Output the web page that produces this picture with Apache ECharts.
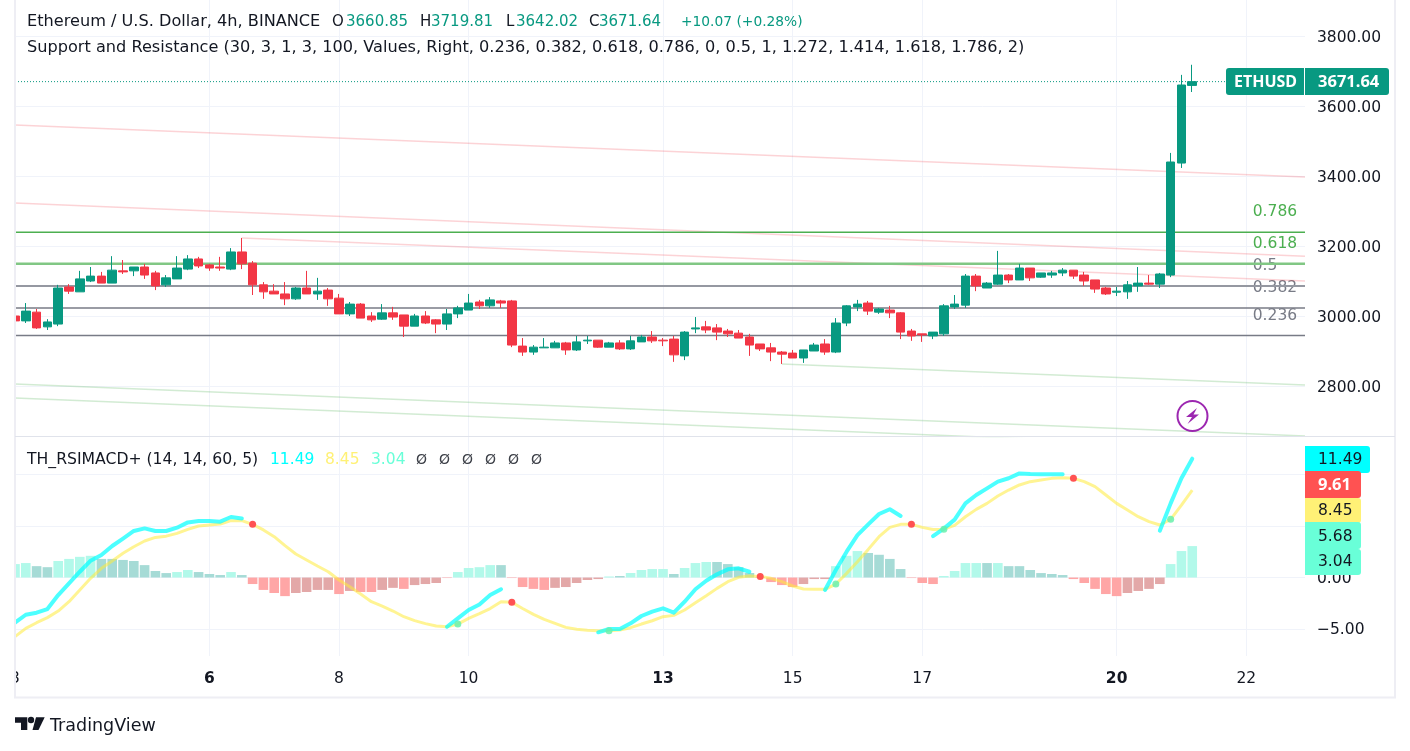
<!DOCTYPE html>
<html>
<head>
    <meta charset="utf-8">
    <style>
        html, body{
            width: 100%;
            height: 100%;
            margin: 0;
            padding: 0;
            background: #fff;
        }
        #chart{
            width: 1410px;
            height: 751px;
        }
    </style>
</head>
<body>
    <div id="chart"></div>
    <script src="https://cdn.jsdelivr.net/npm/echarts@6/dist/echarts.min.js"></script>
    <script>
        // open, close, low, high for each 4h bar
        var candles = [
            [3002,2988,2976,3024],[2988,3016,2982,3039],[3013,2968,2965,3022],[2971,2985,2962,2993],[2979,3082,2973,3091],
            [3085,3073,3065,3093],[3071,3108,3071,3131],[3102,3116,3099,3142],[3116,3096,3096,3128],[3096,3133,3096,3173],
            [3131,3128,3122,3162],[3131,3142,3116,3142],[3142,3119,3108,3151],[3125,3088,3076,3131],[3091,3111,3085,3119],
            [3108,3139,3108,3173],[3136,3165,3133,3176],[3165,3145,3139,3171],[3148,3139,3131,3151],[3142,3139,3131,3171],
            [3136,3185,3133,3196],[3185,3151,3136,3225],[3153,3091,3062,3159],[3091,3071,3051,3099],[3073,3065,3065,3093],
            [3065,3051,3033,3099],[3051,3082,3048,3085],[3082,3065,3065,3131],[3065,3073,3048,3111],[3076,3051,3031,3082],
            [3053,3008,3008,3065],[3008,3036,3002,3042],[3036,2996,2996,3039],[3002,2991,2985,3013],[2993,3011,2991,3036],
            [3011,2999,2991,3028],[3005,2973,2942,3005],[2973,3002,2973,3008],[3002,2982,2979,3016],[2991,2979,2953,2993],
            [2979,3008,2962,3022],[3008,3025,2996,3031],[3019,3039,3019,3065],[3042,3031,3022,3048],[3031,3048,3025,3056],
            [3045,3039,3025,3048],[3045,2919,2913,3048],[2916,2899,2888,2939],[2899,2913,2891,2919],[2911,2913,2911,2939],
            [2911,2925,2911,2931],[2925,2905,2891,2928],[2905,2928,2902,2945],[2931,2933,2922,2945],[2933,2913,2911,2933],
            [2913,2925,2913,2928],[2925,2908,2905,2933],[2908,2931,2905,2945],[2928,2942,2928,2948],[2942,2931,2925,2959],
            [2933,2931,2916,2939],[2936,2891,2871,2945],[2888,2956,2876,2959],[2965,2968,2953,2999],[2971,2962,2953,2988],
            [2968,2956,2933,2979],[2959,2951,2942,2965],[2953,2939,2939,2962],[2942,2919,2888,2951],[2922,2908,2902,2922],
            [2911,2899,2873,2925],[2899,2893,2865,2902],[2896,2882,2882,2905],[2882,2905,2868,2905],[2902,2919,2902,2925],
            [2922,2899,2891,2936],[2899,2982,2896,2996],[2982,3031,2973,3033],[3028,3036,3016,3048],[3039,3016,3005,3045],
            [3013,3022,3008,3025],[3019,3011,2996,3031],[3011,2956,2936,3013],[2959,2945,2931,2965],[2951,2948,2928,2951],
            [2945,2956,2936,2956],[2951,3031,2945,3036],[3028,3036,3022,3062],[3033,3116,3025,3122],[3116,3088,3073,3122],
            [3082,3096,3082,3099],[3093,3119,3091,3188],[3119,3105,3096,3122],[3105,3139,3105,3151],[3139,3111,3102,3139],
            [3113,3125,3111,3125],[3119,3125,3111,3131],[3125,3133,3116,3139],[3133,3116,3108,3133],[3119,3102,3088,3128],
            [3105,3079,3068,3105],[3082,3065,3062,3085],[3070,3073,3059,3085],[3071,3091,3051,3102],[3088,3096,3071,3142],
            [3096,3093,3091,3119],[3093,3122,3082,3125],[3119,3442,3113,3468],[3439,3662,3425,3691],[3660.85,3671.64,3642.02,3719.81]
        ];
        var fibLevels = ["0.786", "0.618", "0.5", "0.382", "0.236"];
        var fibPrices = [3241, 3151, 3088, 3025, 2946];
        // x1, price1, x2, price2
        var resistanceLines = [[0,3548,119.44,3399],[0,3325,119.44,3173],[21,3225,119.44,3102]];
        var supportLines = [[0,2808,119.44,2659],[0,2768,119.44,2619],[71,2865,119.44,2805]];
        var lastPrice = 3671.64;

        var macdHist = [
            1.3,1.4,1.1,1.0,1.6,1.8,2.0,2.1,1.8,1.8,1.7,1.6,1.2,0.63,0.43,0.53,0.73,0.53,0.34,0.24,
            0.53,0.24,-0.63,-1.2,-1.5,-1.8,-1.5,-1.4,-1.2,-1.2,-1.6,-1.3,-1.4,-1.4,-1.2,-1.0,-1.1,-0.73,-0.63,-0.53,
            -0.05,0.53,0.92,1.0,1.2,1.2,-0.05,-0.92,-1.1,-1.2,-1.0,-0.92,-0.53,-0.24,-0.15,0.1,0.15,0.44,0.73,0.82,
            0.82,0.34,0.92,1.4,1.5,1.5,1.3,1.0,0.44,-0.05,-0.44,-0.73,-0.92,-0.63,-0.15,-0.15,1.1,2.1,2.56,2.37,
            2.2,1.8,0.82,-0.05,-0.53,-0.63,0.15,0.63,1.4,1.4,1.4,1.4,1.1,1.1,0.73,0.43,0.34,0.24,-0.15,-0.53,
            -1.1,-1.6,-1.8,-1.5,-1.3,-1.1,-0.63,1.3,2.56,3.04
        ];
        // L = strong bar, D = weakening bar
        var macdShade = (
            "LLDDLLLLDDDDDDDLLDDD" + "LDLLLLDDDDLDLLDDLDDD" +
            "LLLLLDLLLLDDDDDLDLLL" + "LDLLLDDDDD" + "LLLDDDLLLD" +
            "DDDLLLLLLLDLDDDDDDLL" + "LLLDDDDLLL"
        ).split("");
        var signalLine = [
            -5.72,-4.92,-4.37,-3.88,-3.24,-2.34,-1.2,-0.08,0.89,1.6,2.34,2.98,3.53,3.88,4.0,4.27,4.66,4.98,5.08,5.17,
            5.5,5.5,5.14,4.6,3.95,3.08,2.27,1.69,1.11,0.56,-0.24,-0.89,-1.6,-2.34,-2.76,-3.24,-3.79,-4.17,-4.46,-4.69,
            -4.76,-4.5,-3.95,-3.5,-3.0,-2.34,-2.4,-3.0,-3.56,-4.05,-4.43,-4.82,-5.0,-5.1,-5.14,-5.14,-5.08,-4.85,-4.5,-4.18,
            -3.79,-3.66,-3.14,-2.43,-1.76,-1.05,-0.4,0.02,0.15,0.11,-0.08,-0.4,-0.82,-1.11,-1.14,-1.14,-0.63,0.4,1.53,2.72,
            3.95,4.85,5.14,5.14,4.85,4.64,4.68,5.04,5.88,6.59,7.17,7.88,8.46,8.95,9.27,9.43,9.59,9.65,9.59,9.27,
            8.79,7.98,7.17,6.53,5.88,5.4,5.08,5.63,7.0,8.45
        ];
        var rsiSegments = [
            {from: 0, values: [-4.37,-3.6,-3.4,-3.05,-1.7,-0.56,0.56,1.63,2.18,3.05,3.76,4.5,4.75,4.5,4.5,4.82,5.33,5.46,5.46,5.4,5.85,5.7]},
            {from: 40, values: [-4.76,-3.95,-3.14,-2.6,-1.7,-1.14]},
            {from: 54, values: [-5.3,-4.98,-4.98,-4.43,-3.72,-3.3,-2.98,-3.4,-2.34,-1.14,-0.31,0.31,0.79,0.89,0.56]},
            {from: 75, values: [-1.2,0.73,2.5,4.1,5.14,6.14,6.6,5.95]},
            {from: 85, values: [4.0,4.73,5.6,7.17,7.98,8.62,9.27,9.6,10.07,10,9.98,9.98,9.98]},
            {from: 106, values: [4.53,7.17,9.6,11.49]}
        ];
        var sellDots = [[22,5.14],[46,-2.4],[69,0.11],[83,5.14],[98,9.59]];
        var buyDots = [[41,-4.5],[55,-5.14],[76,-0.63],[86,4.68],[107,5.63]];

        var priceTicks = [2800, 3000, 3200, 3400, 3600, 3800];
        var macdTicks = [-5, 0, 5, 10];
        var dayBars = [0, 18, 30, 42, 60, 72, 84, 102, 114];
        var dayLabels = ["3", "6", "8", "10", "13", "15", "17", "20", "22"];
        var boldDays = ["6", "13", "20"];

        var FONT = '"DejaVu Sans", sans-serif';
        var BOLDFONT = '"Noto Sans", sans-serif';
        var FS = 15.5;
        var TEXT = "#131722", UP = "#089981", DOWN = "#f23645", GREY = "#787b86";
        var GRIDCOL = "#f0f3fa";
        var XMAX = 119.44;

        function bars(arr){
            var out = [];
            for( var i = 0; i < arr.length; i++ ){
                out.push( [i, arr[i]] );
            }
            return out;
        }

        var series = [];

        // trend lines and fib levels sit under the candles
        function trend(list, color){
            for( var i = 0; i < list.length; i++ ){
                var t = list[i];
                series.push({
                    type: "line", xAxisIndex: 0, yAxisIndex: 0, symbol: "none", silent: true,
                    lineStyle: {color: color, width: 1.5},
                    data: [[t[0], t[1]], [t[2], t[3]]]
                });
            }
        }
        trend(resistanceLines, "rgba(242,54,69,0.22)");
        trend(supportLines, "rgba(76,175,80,0.25)");

        var fibColors = ["#4caf50", "#81c784", "#9598a1", "#787b86", "#787b86"];
        var fibWidths = [1.5, 2.5, 2, 1.5, 1.5];
        var fibText = ["#4caf50", "#4caf50", GREY, GREY, GREY];
        for( var f = 0; f < fibPrices.length; f++ ){
            series.push({
                type: "line", xAxisIndex: 0, yAxisIndex: 0, symbol: "none", silent: true,
                lineStyle: {color: fibColors[f], width: fibWidths[f]},
                data: [[0, fibPrices[f]], [XMAX, fibPrices[f]]]
            });
            series.push({
                type: "scatter", xAxisIndex: 0, yAxisIndex: 0, symbolSize: 0, silent: true,
                itemStyle: {opacity: 1},
                label: {show: true, position: "right", distance: 0, offset: [0, -20], formatter: fibLevels[f], color: fibText[f], fontFamily: FONT, fontSize: FS},
                data: [[114.6, fibPrices[f]]]
            });
        }
        series.push({
            type: "line", xAxisIndex: 0, yAxisIndex: 0, symbol: "none", silent: true,
            lineStyle: {color: UP, width: 1, type: [1, 2]},
            data: [[0, lastPrice], [XMAX, lastPrice]]
        });

        series.push({
            type: "candlestick", xAxisIndex: 0, yAxisIndex: 0, z: 5, barWidth: 9,
            itemStyle: {color: UP, color0: DOWN, borderColor: UP, borderColor0: DOWN, borderWidth: 1},
            data: candles.map(function(c, i){ return [i, c[0], c[1], c[2], c[3]]; })
        });

        // lower pane
        series.push({
            type: "bar", xAxisIndex: 1, yAxisIndex: 1, barWidth: 9.6,
            data: macdHist.map(function(v, i){
                var strong = macdShade[i] === "L";
                var c = v >= 0 ? (strong ? "#b2f9ea" : "#a6dbd6") : (strong ? "#ffa6a6" : "#e3a8a8");
                return {value: [i, v], itemStyle: {color: c}};
            })
        });
        series.push({
            type: "line", xAxisIndex: 1, yAxisIndex: 1, symbol: "none", z: 3,
            lineStyle: {color: "#ffeb3b", opacity: 0.55, width: 3},
            data: bars(signalLine)
        });
        rsiSegments.forEach(function(seg){
            series.push({
                type: "line", xAxisIndex: 1, yAxisIndex: 1, symbol: "none", z: 4,
                lineStyle: {color: "#00ffff", opacity: 0.7, width: 4, cap: "round", join: "round"},
                data: seg.values.map(function(v, k){ return [seg.from + k, v]; })
            });
        });
        series.push({
            type: "scatter", xAxisIndex: 1, yAxisIndex: 1, symbolSize: 7, z: 6,
            itemStyle: {color: "#ff5252", opacity: 1}, data: sellDots
        });
        series.push({
            type: "scatter", xAxisIndex: 1, yAxisIndex: 1, symbolSize: 7, z: 6,
            itemStyle: {color: "#69f0ae", opacity: 0.85}, data: buyDots
        });

        function txt(x, y, s, fill, size, weight, family){
            return {
                type: "text", z: 120, silent: true,
                style: {x: x, y: y, text: s, fill: fill, font: (weight || "normal") + " " + (size || FS) + 'px ' + (family || FONT),
                    textAlign: "left", textVerticalAlign: "middle"}
            };
        }
        function box(x, y, w, h, color, r){
            return {type: "rect", z: 110, silent: true, shape: {x: x, y: y, width: w, height: h, r: r || 0}, style: {fill: color}};
        }
        function hline(y, x1, x2, color, w){
            return {type: "line", z: 105, silent: true, shape: {x1: x1, y1: y, x2: x2, y2: y}, style: {stroke: color, lineWidth: w}};
        }
        function vline(x, y1, y2, color, w){
            return {type: "line", z: 105, silent: true, shape: {x1: x, y1: y1, x2: x, y2: y2}, style: {stroke: color, lineWidth: w}};
        }
        function poly(points, color){
            return {type: "polygon", z: 120, silent: true, shape: {points: points}, style: {fill: color}};
        }

        var graphics = [
            // frame
            box(0, 0, 14, 700, "#fff"),
            vline(15, 0, 698, "#eeeef4", 2),
            vline(1395, 0, 698, "#eeeef4", 2),
            hline(697.5, 14, 1396, "#eeeef4", 2),
            hline(436.5, 15, 1395, "#e0e3eb", 1),

            // legend
            txt(27, 22, "Ethereum / U.S. Dollar, 4h, BINANCE", TEXT, 16.15),
            txt(332, 22, "O", TEXT, 15), txt(346, 22, "3660.85", UP, 15),
            txt(420, 22, "H", TEXT, 15), txt(431, 22, "3719.81", UP, 15),
            txt(506, 22, "L", TEXT, 15), txt(516, 22, "3642.02", UP, 15),
            txt(589, 22, "C", TEXT, 15), txt(599, 22, "3671.64", UP, 15),
            txt(681, 22, "+10.07 (+0.28%)", UP, 13.8),
            txt(27, 48, "Support and Resistance (30, 3, 1, 3, 100, Values, Right, 0.236, 0.382, 0.618, 0.786, 0, 0.5, 1, 1.272, 1.414, 1.618, 1.786, 2)", TEXT, 16.15),
            txt(27, 460, "TH_RSIMACD+ (14, 14, 60, 5)", TEXT, 15.65),
            txt(270, 460, "11.49", "#00ffff"), txt(325, 460, "8.45", "#fff176"), txt(371, 460, "3.04", "#69ffd8"),
            txt(416, 460, "Ø", "#3d4048", 14), txt(439, 460, "Ø", "#3d4048", 14), txt(462, 460, "Ø", "#3d4048", 14),
            txt(485, 460, "Ø", "#3d4048", 14), txt(508, 460, "Ø", "#3d4048", 14), txt(531, 460, "Ø", "#3d4048", 14),

            // price tag
            box(1226, 68, 78, 27, UP, [3, 0, 0, 3]),
            box(1305, 68, 84, 27, UP, [0, 3, 3, 0]),
            txt(1234, 82, "ETHUSD", "#fff", 16, "bold", BOLDFONT),
            txt(1318, 82, "3671.64", "#fff", 16.5, "bold", BOLDFONT),

            // indicator tags
            box(1305, 446, 65, 27, "#00ffff", [0, 3, 3, 0]), txt(1318, 460, "11.49", TEXT),
            box(1305, 471, 56, 27, "#ff5252", [0, 3, 3, 0]), txt(1318, 485, "9.61", "#fff", 16.5, "bold", BOLDFONT),
            box(1305, 498, 56, 25, "#fff176", [0, 3, 3, 0]), txt(1318, 511, "8.45", TEXT),
            box(1305, 522, 56, 27, "#69ffd8", [0, 3, 3, 0]), txt(1318, 536.5, "5.68", TEXT),
            box(1305, 549, 56, 26, "#69ffd8", [0, 3, 3, 0]), txt(1318, 562, "3.04", TEXT),

            // lightning icon
            {type: "circle", z: 120, silent: true, shape: {cx: 1192.5, cy: 416, r: 15}, style: {fill: "none", stroke: "#9c27b0", lineWidth: 2}},
            poly([[1197, 408], [1186, 417], [1192, 417], [1187.5, 424], [1199, 414.5], [1193.5, 414.5]], "#9c27b0"),

            // logo
            poly([[15, 717.3], [27.3, 717.3], [27.3, 730], [21, 730], [21, 722.7], [15, 722.7]], TEXT),
            {type: "circle", z: 120, silent: true, shape: {cx: 31, cy: 720, r: 3.2}, style: {fill: TEXT}},
            poly([[36, 717.3], [44.7, 717.3], [38.5, 730], [32.5, 730]], TEXT),
            txt(50, 726, "TradingView", TEXT, 17.5)
        ];

        var richAxis = {a: {color: TEXT, fontFamily: FONT, fontSize: FS, padding: [2, 0, 0, 0]}};

        var chart = echarts.init(document.getElementById("chart"), null, {renderer: "canvas"});
        chart.setOption({
            animation: false,
            backgroundColor: "#fff",
            grid: [
                {left: 15, top: 0, width: 1290, height: 436.5},
                {left: 15, top: 437, width: 1290, height: 219}
            ],
            xAxis: [0, 1].map(function(n){
                return {
                    type: "value", gridIndex: n, min: 0, max: XMAX,
                    axisLine: {show: false},
                    axisTick: {show: false, customValues: dayBars},
                    splitLine: {show: true, lineStyle: {color: GRIDCOL, width: 1}},
                    axisLabel: n === 0 ? {show: false} : {
                        show: true, customValues: dayBars, margin: 15, hideOverlap: false,
                        showMinLabel: true,
                        formatter: function(v){
                            var d = dayLabels[dayBars.indexOf(v)];
                            return boldDays.indexOf(d) >= 0 ? "{b|" + d + "}" : d;
                        },
                        color: TEXT, fontFamily: FONT, fontSize: FS,
                        rich: {b: {fontWeight: "bold", color: TEXT, fontFamily: FONT, fontSize: FS}}
                    }
                };
            }),
            yAxis: [
                {
                    type: "value", gridIndex: 0, position: "right", min: 2657.7, max: 3904.9,
                    axisLine: {show: false},
                    axisTick: {show: false, customValues: priceTicks},
                    splitLine: {show: true, lineStyle: {color: GRIDCOL, width: 1}},
                    axisLabel: {customValues: priceTicks, margin: 12, rich: richAxis,
                        formatter: function(v){ return "{a|" + v.toFixed(2) + "}"; }}
                },
                {
                    type: "value", gridIndex: 1, position: "right", min: -7.59, max: 13.59,
                    axisLine: {show: false},
                    axisTick: {show: false, customValues: macdTicks},
                    splitLine: {show: true, lineStyle: {color: GRIDCOL, width: 1}},
                    axisLabel: {customValues: macdTicks, margin: 12, rich: richAxis,
                        formatter: function(v){ return "{a|" + (v < 0 ? "\u2212" + Math.abs(v).toFixed(2) : v.toFixed(2)) + "}"; }}
                }
            ],
            series: series,
            graphic: {elements: graphics}
        });
    </script>
</body>
</html>
